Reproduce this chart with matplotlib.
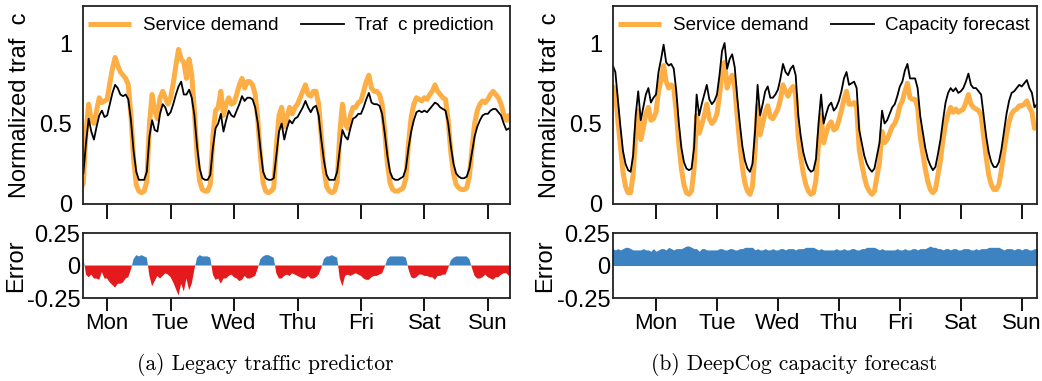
import matplotlib
matplotlib.use("Agg")
import matplotlib.pyplot as plt
import numpy as np

plt.rcParams['font.family'] = ['Liberation Sans', 'DejaVu Sans']

# hourly samples, time in days (integer day = tick position)
t = 0.25 + np.arange(172) / 24.0

# (a) legacy predictor
demand_a = [
    0.70, 0.68, 0.62, 0.48, 0.28, 0.13, 0.09, 0.08, 0.09, 0.13, 0.45, 0.62, 0.52, 0.50, 0.58, 0.66, 0.63, 0.64, 0.65, 0.75, 0.84, 0.91, 0.86, 0.82,
    0.80, 0.78, 0.74, 0.55, 0.28, 0.12, 0.08, 0.07, 0.08, 0.14, 0.50, 0.68, 0.58, 0.53, 0.66, 0.70, 0.66, 0.62, 0.66, 0.75, 0.86, 0.96, 0.90, 0.88,
    0.78, 0.90, 0.80, 0.58, 0.30, 0.14, 0.09, 0.08, 0.08, 0.12, 0.42, 0.58, 0.60, 0.70, 0.55, 0.62, 0.66, 0.62, 0.63, 0.68, 0.74, 0.78, 0.72, 0.76,
    0.76, 0.74, 0.68, 0.52, 0.29, 0.13, 0.08, 0.07, 0.08, 0.10, 0.36, 0.55, 0.60, 0.48, 0.54, 0.60, 0.56, 0.60, 0.62, 0.66, 0.70, 0.74, 0.68, 0.67,
    0.70, 0.70, 0.62, 0.42, 0.22, 0.11, 0.08, 0.07, 0.08, 0.14, 0.44, 0.62, 0.50, 0.47, 0.55, 0.60, 0.60, 0.63, 0.64, 0.70, 0.76, 0.80, 0.72, 0.70,
    0.70, 0.68, 0.62, 0.45, 0.25, 0.13, 0.09, 0.08, 0.08, 0.09, 0.10, 0.16, 0.38, 0.54, 0.62, 0.66, 0.65, 0.64, 0.66, 0.65, 0.68, 0.70, 0.74, 0.70,
    0.68, 0.66, 0.65, 0.52, 0.32, 0.19, 0.12, 0.10, 0.09, 0.09, 0.10, 0.17, 0.34, 0.50, 0.58, 0.62, 0.64, 0.63, 0.65, 0.68, 0.70, 0.68, 0.66, 0.62,
    0.56, 0.52, 0.55, 0.50,
]
pred_a = [
    0.62, 0.60, 0.58, 0.50, 0.33, 0.20, 0.16, 0.15, 0.16, 0.19, 0.38, 0.53, 0.45, 0.40, 0.48, 0.55, 0.58, 0.54, 0.55, 0.62, 0.69, 0.74, 0.72, 0.68,
    0.67, 0.68, 0.65, 0.52, 0.33, 0.20, 0.15, 0.15, 0.15, 0.20, 0.42, 0.52, 0.46, 0.45, 0.56, 0.62, 0.60, 0.55, 0.57, 0.62, 0.68, 0.73, 0.76, 0.68,
    0.68, 0.71, 0.66, 0.55, 0.36, 0.22, 0.16, 0.15, 0.15, 0.18, 0.35, 0.47, 0.50, 0.56, 0.45, 0.52, 0.58, 0.55, 0.54, 0.58, 0.62, 0.67, 0.64, 0.66,
    0.66, 0.65, 0.60, 0.50, 0.34, 0.20, 0.16, 0.15, 0.15, 0.16, 0.30, 0.45, 0.50, 0.40, 0.47, 0.52, 0.50, 0.53, 0.54, 0.57, 0.60, 0.64, 0.60, 0.57,
    0.60, 0.61, 0.55, 0.40, 0.27, 0.18, 0.15, 0.15, 0.15, 0.20, 0.34, 0.46, 0.42, 0.40, 0.47, 0.53, 0.54, 0.56, 0.56, 0.60, 0.65, 0.69, 0.63, 0.62,
    0.62, 0.61, 0.56, 0.44, 0.30, 0.20, 0.16, 0.15, 0.15, 0.16, 0.17, 0.22, 0.35, 0.45, 0.52, 0.57, 0.58, 0.57, 0.58, 0.57, 0.59, 0.61, 0.63, 0.62,
    0.60, 0.59, 0.58, 0.50, 0.36, 0.25, 0.19, 0.17, 0.16, 0.16, 0.17, 0.22, 0.32, 0.42, 0.48, 0.52, 0.55, 0.56, 0.56, 0.58, 0.59, 0.59, 0.57, 0.55,
    0.50, 0.46, 0.47, 0.45,
]

# (b) DeepCog
demand_b = [
    0.70, 0.73, 0.70, 0.52, 0.36, 0.20, 0.11, 0.07, 0.07, 0.18, 0.43, 0.58, 0.40, 0.47, 0.56, 0.60, 0.52, 0.53, 0.57, 0.70, 0.77, 0.86, 0.76, 0.72,
    0.74, 0.72, 0.57, 0.37, 0.22, 0.12, 0.07, 0.06, 0.08, 0.22, 0.55, 0.44, 0.49, 0.55, 0.62, 0.53, 0.50, 0.52, 0.56, 0.67, 0.82, 0.88, 0.72, 0.77,
    0.80, 0.73, 0.54, 0.37, 0.23, 0.13, 0.08, 0.06, 0.11, 0.33, 0.61, 0.43, 0.50, 0.57, 0.61, 0.54, 0.53, 0.56, 0.59, 0.65, 0.74, 0.70, 0.67, 0.71,
    0.73, 0.68, 0.42, 0.29, 0.19, 0.12, 0.08, 0.06, 0.07, 0.15, 0.38, 0.55, 0.38, 0.44, 0.49, 0.51, 0.46, 0.47, 0.52, 0.58, 0.65, 0.70, 0.62, 0.62,
    0.63, 0.60, 0.34, 0.25, 0.17, 0.11, 0.08, 0.06, 0.08, 0.17, 0.26, 0.45, 0.38, 0.40, 0.44, 0.48, 0.50, 0.54, 0.61, 0.64, 0.70, 0.75, 0.66, 0.65,
    0.65, 0.60, 0.42, 0.32, 0.22, 0.14, 0.09, 0.07, 0.09, 0.18, 0.27, 0.40, 0.50, 0.56, 0.60, 0.57, 0.59, 0.57, 0.58, 0.59, 0.63, 0.68, 0.62, 0.60,
    0.59, 0.58, 0.55, 0.42, 0.29, 0.18, 0.12, 0.09, 0.09, 0.12, 0.21, 0.33, 0.43, 0.51, 0.56, 0.58, 0.59, 0.61, 0.61, 0.62, 0.64, 0.60, 0.57, 0.47,
    0.49, 0.48, 0.49, 0.48,
]
forecast_b = [
    0.82, 0.86, 0.82, 0.65, 0.48, 0.33, 0.25, 0.21, 0.20, 0.30, 0.55, 0.70, 0.52, 0.60, 0.68, 0.72, 0.63, 0.66, 0.68, 0.82, 0.90, 0.99, 0.88, 0.86,
    0.87, 0.84, 0.70, 0.50, 0.35, 0.26, 0.22, 0.21, 0.22, 0.35, 0.68, 0.55, 0.62, 0.68, 0.74, 0.65, 0.62, 0.64, 0.68, 0.80, 0.95, 1.00, 0.84, 0.90,
    0.93, 0.85, 0.66, 0.50, 0.36, 0.27, 0.22, 0.20, 0.25, 0.45, 0.74, 0.55, 0.62, 0.70, 0.73, 0.66, 0.66, 0.68, 0.71, 0.78, 0.87, 0.82, 0.80, 0.84,
    0.86, 0.80, 0.55, 0.42, 0.32, 0.26, 0.22, 0.20, 0.21, 0.28, 0.50, 0.68, 0.50, 0.56, 0.61, 0.63, 0.58, 0.60, 0.64, 0.70, 0.78, 0.82, 0.74, 0.75,
    0.76, 0.72, 0.46, 0.38, 0.30, 0.25, 0.22, 0.20, 0.22, 0.30, 0.38, 0.58, 0.50, 0.52, 0.56, 0.60, 0.62, 0.67, 0.73, 0.76, 0.83, 0.87, 0.78, 0.78,
    0.78, 0.72, 0.55, 0.45, 0.35, 0.28, 0.24, 0.21, 0.23, 0.31, 0.40, 0.52, 0.63, 0.69, 0.72, 0.70, 0.72, 0.69, 0.70, 0.72, 0.76, 0.81, 0.74, 0.72,
    0.72, 0.70, 0.68, 0.55, 0.42, 0.32, 0.26, 0.23, 0.23, 0.26, 0.34, 0.45, 0.56, 0.64, 0.69, 0.70, 0.72, 0.74, 0.73, 0.75, 0.77, 0.72, 0.69, 0.60,
    0.62, 0.60, 0.61, 0.60,
]

days = ['Mon', 'Tue', 'Wed', 'Thu', 'Fri', 'Sat', 'Sun']
day_ticks = [1, 2, 3, 4, 5, 6, 7]

ORANGE = '#fdae45'
BLUE = '#3d83c2'
RED = '#e41a1c'
FS = 16

fig = plt.figure(figsize=(10.42, 3.81), dpi=100)

panels = [
    (0.0797, 0.4098, (0.62, 7.35), demand_a, pred_a, 'Traf  c prediction', '(a) Legacy traffic predictor'),
    (0.5883, 0.4069, (0.295, 7.25), demand_b, forecast_b, 'Capacity forecast', '(b) DeepCog capacity forecast'),
]

for x0, w, xlim, dem, pr, lab, cap in panels:
    dem = np.array(dem)
    pr = np.array(pr)
    err = pr - dem

    ax = fig.add_axes([x0, 0.4646, w, 0.5197])
    ax.plot(t, dem, color=ORANGE, lw=3.6, label='Service demand', solid_capstyle='butt')
    ax.plot(t, pr, color='black', lw=1.3, label=lab)
    ax.set_xlim(*xlim)
    ax.set_ylim(0, 1.23)
    ax.set_yticks([0, 0.5, 1])
    ax.set_yticklabels(['0', '0.5', '1'])
    ax.set_xticks(day_ticks)
    ax.set_xticklabels([])
    ax.tick_params(axis='x', direction='out', length=11, width=1.3)
    ax.tick_params(axis='y', length=0, labelsize=17, pad=8)
    ax.set_ylabel('Normalized traf  c', fontsize=17, labelpad=6)
    ax.legend(loc='upper left', ncol=2, frameon=False, fontsize=13.5,
              handlelength=2.3, columnspacing=1.2, handletextpad=0.6,
              borderaxespad=0.2, bbox_to_anchor=(-0.014, 1.0))
    for s in ax.spines.values():
        s.set_linewidth(1.3)
        s.set_color('#222222')

    ax2 = fig.add_axes([x0, 0.2178, w, 0.1706])
    ax2.fill_between(t, err, 0, where=err >= 0, interpolate=True, color=BLUE, lw=0)
    ax2.fill_between(t, err, 0, where=err < 0, interpolate=True, color=RED, lw=0)
    ax2.set_xlim(*xlim)
    ax2.set_ylim(-0.25, 0.25)
    ax2.set_yticks([-0.25, 0, 0.25])
    ax2.set_yticklabels(['-0.25', '0', '0.25'])
    ax2.set_xticks(day_ticks)
    ax2.set_xticklabels(days)
    ax2.tick_params(axis='x', direction='out', length=9, width=1.3, labelsize=FS, pad=2)
    ax2.tick_params(axis='y', length=0, labelsize=17, pad=2)
    ax2.set_ylabel('Error', fontsize=17, labelpad=0)
    for s in ax2.spines.values():
        s.set_linewidth(1.3)
        s.set_color('#222222')

    fig.text(x0 + w / 2 - 0.03, 0.042, cap, ha='center', va='center',
             fontsize=15.5, family='cmr10')

fig.savefig('out.png', dpi=100)
